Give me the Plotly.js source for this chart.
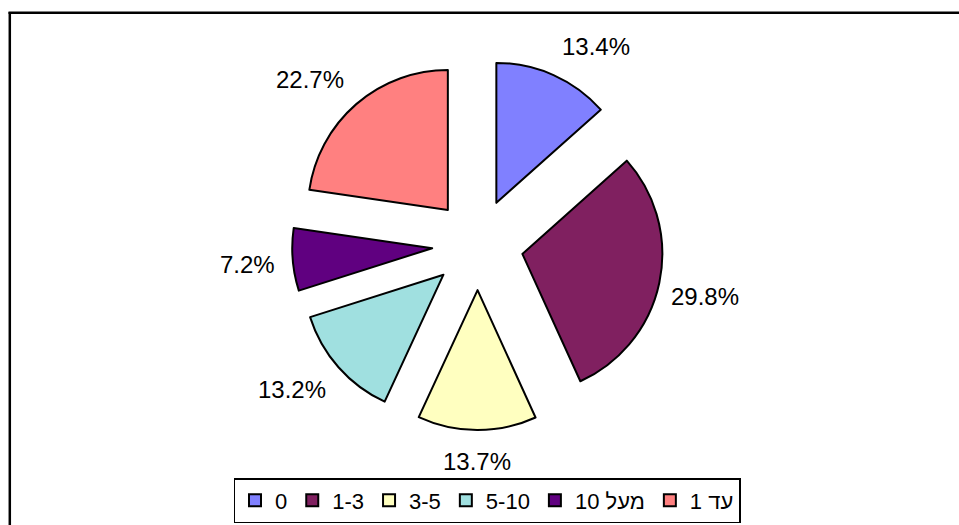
<!DOCTYPE html>
<html>
<head>
<meta charset="utf-8">
<script src="https://cdn.plot.ly/plotly-3.0.1.min.js"></script>
<style>html,body{margin:0;padding:0;background:#fff;}#chart{width:959px;height:525px;}</style>
</head>
<body>
<div id="chart"></div>
<script>
const categories = ["0", "1-3", "3-5", "5-10", "מעל 10", "עד 1"];
const shares = [13.4, 29.8, 13.7, 13.2, 7.2, 22.7];
const sliceColors = ["#8080FF", "#802060", "#FFFFC0", "#A0E0E0", "#600080", "#FF8080"];

const W = 959, H = 525;
const font = "Liberation Sans, Arial, sans-serif";
const PULL = 0.326;

// pie domain (pixels)
const dom = {x0: 292.1, x1: 663.3, top: 58.9, bottom: 430.1};

const trace = {
  type: "pie",
  labels: categories,
  values: shares,
  sort: false,
  direction: "clockwise",
  rotation: 0,
  pull: PULL,
  marker: {colors: sliceColors, line: {color: "#000", width: 2}},
  textinfo: "none",
  hoverinfo: "label+percent",
  domain: {x: [dom.x0 / W, dom.x1 / W], y: [1 - dom.bottom / H, 1 - dom.top / H]},
  automargin: false
};

// percentage labels placed outside each exploded slice (geometry derived from the data)
const cx = (dom.x0 + dom.x1) / 2, cy = (dom.top + dom.bottom) / 2;
const R = Math.min(dom.x1 - dom.x0, dom.bottom - dom.top) / (2 + 2 * PULL);
const total = shares.reduce((a, b) => a + b, 0);
const annotations = [];
let cum = 0;
shares.forEach((v, i) => {
  const mid = (cum + v / 2) / total * 2 * Math.PI;
  cum += v;
  const sx = Math.sin(mid), sy = -Math.cos(mid);
  const ax = cx + PULL * R * sx, ay = cy + PULL * R * sy;
  const g = 9 + 10 * Math.abs(sy);
  const f = s => Math.sign(s) * Math.min(1, Math.abs(s) * 4.5);
  const px = ax + (R + g) * sx + 35 * f(sx);
  const py = ay + (R + g) * sy + 12 * f(sy);
  annotations.push({
    xref: "paper", yref: "paper", x: px / W, y: 1 - py / H,
    xanchor: "center", yanchor: "middle", showarrow: false,
    text: (v / total * 100).toFixed(1) + "%",
    font: {family: font, size: 24, color: "#000"}
  });
});

const layout = {
  width: W, height: H,
  margin: {l: 0, r: 0, t: 0, b: 0},
  paper_bgcolor: "#fff",
  plot_bgcolor: "#fff",
  showlegend: true,
  legend: {
    orientation: "h",
    x: 487 / W, xanchor: "center",
    y: 1 - 478 / H, yanchor: "top",
    bordercolor: "#000", borderwidth: 1.5,
    bgcolor: "#fff",
    font: {family: font, size: 22, color: "#000"},
    traceorder: "normal"
  },
  annotations: annotations,
  shapes: [
    {type: "line", xref: "paper", yref: "paper", x0: 9.8 / W, x1: 9.8 / W, y0: 1 - 12 / H, y1: -0.05, line: {color: "#000", width: 2.5}},
    {type: "line", xref: "paper", yref: "paper", x0: 8.5 / W, x1: 1.05, y0: 1 - 12.8 / H, y1: 1 - 12.8 / H, line: {color: "#000", width: 2.5}}
  ]
};

Plotly.newPlot("chart", [trace], layout, {displayModeBar: false, staticPlot: true});
</script>
</body>
</html>
